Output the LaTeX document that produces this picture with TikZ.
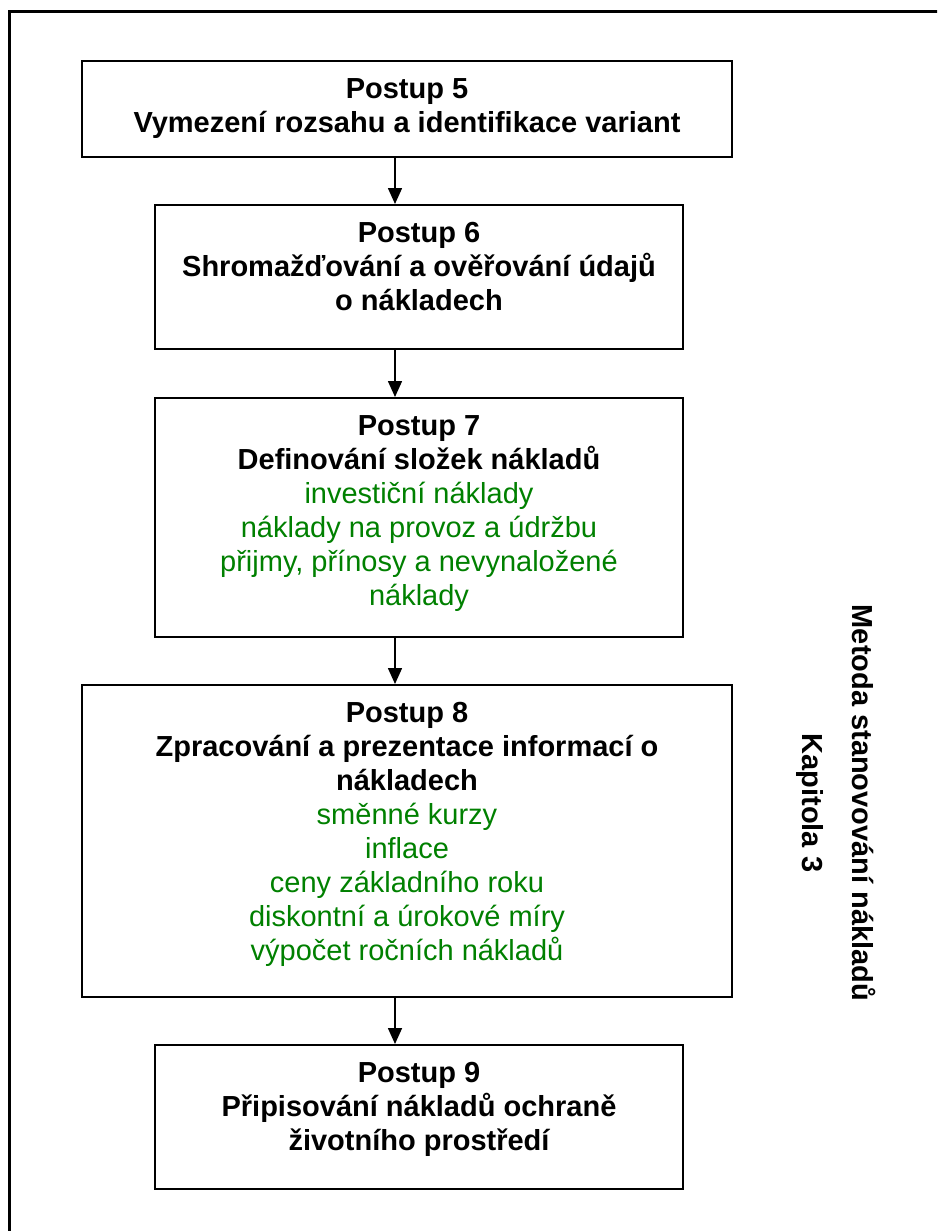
\documentclass[tikz,border=0pt]{standalone}
\usepackage{fontspec}
\setmainfont{Liberation Sans}
\usetikzlibrary{arrows.meta}
\definecolor{itemgreen}{RGB}{0,128,0}
% fixed size box, text hung from the top
\newcommand{\boxtext}[3]{\parbox[c][#2][t]{#1}{\centering\rule{0pt}{37.5pt}#3}}
\newcommand{\items}[1]{{\mdseries\color{itemgreen}#1}}

\begin{document}
\begin{tikzpicture}[x=1pt,y=-1pt,
  stepbox/.style={draw,line width=2pt,inner sep=0pt,anchor=north,
    font=\fontsize{29}{34}\selectfont\bfseries},
  flow/.style={line width=1.6pt,-{Triangle[length=16pt,width=14pt]}}]
\useasboundingbox (0,0) rectangle (937,1231);
\clip (0,0) rectangle (937,1231);
\draw[line width=3pt] (9.5,1260) |- (960,11.5);

\coordinate (ax) at (395,0);

\node[stepbox] (p5) at (407,60) {\boxtext{650pt}{96pt}{Postup 5\\Vymezení rozsahu a identifikace variant}};
\node[stepbox] (p6) at (419,204) {\boxtext{528pt}{144pt}{Postup 6\\Shromažďování a ověřování údajů\\o nákladech}};
\node[stepbox] (p7) at (419,397) {\boxtext{528pt}{239pt}{Postup 7\\Definování složek nákladů\\
  \items{investiční náklady\\náklady na provoz a údržbu\\přijmy, přínosy a nevynaložené\\náklady}}};
\node[stepbox] (p8) at (407,684) {\boxtext{650pt}{312pt}{Postup 8\\Zpracování a prezentace informací o\\nákladech\\
  \items{směnné kurzy\\inflace\\ceny základního roku\\diskontní a úrokové míry\\výpočet ročních nákladů}}};
\node[stepbox] (p9) at (419,1044) {\boxtext{528pt}{144pt}{Postup 9\\Připisování nákladů ochraně\\životního prostředí}};

\draw[flow] (p5.south -| ax) -- (p6.north -| ax);
\draw[flow] (p6.south -| ax) -- (p7.north -| ax);
\draw[flow] (p7.south -| ax) -- (p8.north -| ax);
\draw[flow] (p8.south -| ax) -- (p9.north -| ax);

\node[rotate=-90,align=center,font=\fontsize{29}{34}\selectfont\bfseries] (chapter) at (836,803)
  {Metoda stanovování nákladů\\[16pt]Kapitola 3};
\end{tikzpicture}
\end{document}
